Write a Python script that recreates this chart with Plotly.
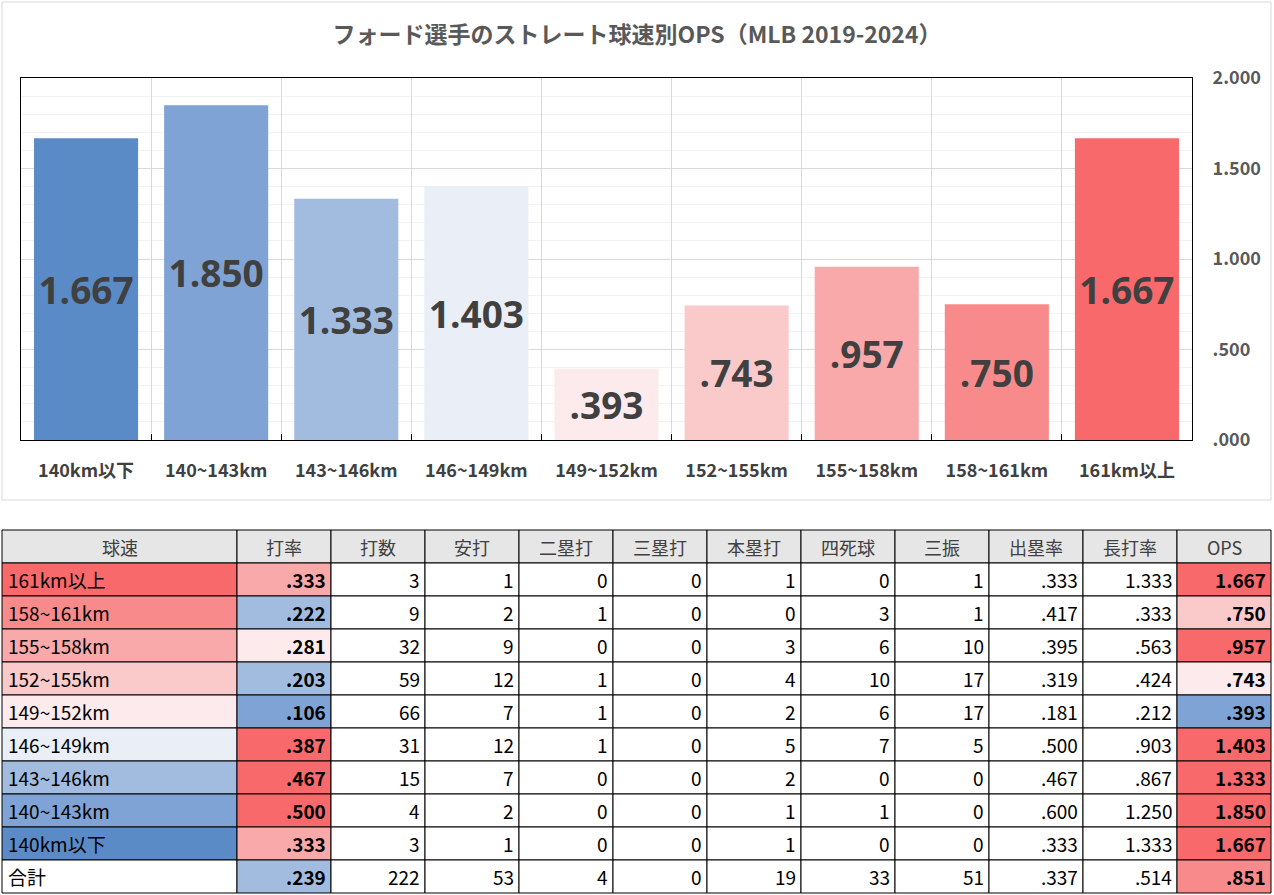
import plotly.graph_objects as go

# ---------------- data ----------------
categories = ["140km以下", "140~143km", "143~146km", "146~149km", "149~152km",
              "152~155km", "155~158km", "158~161km", "161km以上"]
ops_values = [1.667, 1.850, 1.333, 1.403, 0.393, 0.743, 0.957, 0.750, 1.667]
bar_colors = ["#5B8BC7", "#7FA3D4", "#A2BCE0", "#E9EEF7", "#FCEAED",
              "#FACACB", "#F9A9AA", "#F98A8B", "#F8696B"]

y_tickvals = [0, 0.5, 1.0, 1.5, 2.0]
y_ticktext = [".000", ".500", "1.000", "1.500", "2.000"]

title_text = "フォード選手のストレート球速別OPS（MLB 2019-2024）"

header = ["球速", "打率", "打数", "安打", "二塁打", "三塁打", "本塁打", "四死球", "三振", "出塁率", "長打率", "OPS"]
speeds = ["161km以上", "158~161km", "155~158km", "152~155km", "149~152km",
          "146~149km", "143~146km", "140~143km", "140km以下", "合計"]
avg = [0.333, 0.222, 0.281, 0.203, 0.106, 0.387, 0.467, 0.500, 0.333, 0.239]
ab = [3, 9, 32, 59, 66, 31, 15, 4, 3, 222]
hits = [1, 2, 9, 12, 7, 12, 7, 2, 1, 53]
doubles = [0, 1, 0, 1, 1, 1, 0, 0, 0, 4]
triples = [0, 0, 0, 0, 0, 0, 0, 0, 0, 0]
homers = [1, 0, 3, 4, 2, 5, 2, 1, 1, 19]
walks = [0, 3, 6, 10, 6, 7, 0, 1, 0, 33]
strikeouts = [1, 1, 10, 17, 17, 5, 0, 0, 0, 51]
obp = [0.333, 0.417, 0.395, 0.319, 0.181, 0.500, 0.467, 0.600, 0.333, 0.337]
slg = [1.333, 0.333, 0.563, 0.424, 0.212, 0.903, 0.867, 1.250, 1.333, 0.514]
ops_table = [1.667, 0.750, 0.957, 0.743, 0.393, 1.403, 1.333, 1.850, 1.667, 0.851]

speed_fill = ["#F8696B", "#F98A8B", "#F9A9AA", "#FACACB", "#FCEAED",
              "#E9EEF7", "#A2BCE0", "#7FA3D4", "#5B8BC7", "#FFFFFF"]
avg_fill = ["#F9A9AA", "#A2BCE0", "#FCEAED", "#A2BCE0", "#7FA3D4",
            "#F8696B", "#F8696B", "#F8696B", "#F9A9AA", "#A2BCE0"]
ops_fill = ["#F8696B", "#FACACB", "#F8696B", "#FCEAED", "#7FA3D4",
            "#F8696B", "#F8696B", "#F8696B", "#F8696B", "#F98A8B"]


def fmt3(v):
    s = f"{v:.3f}"
    return s[1:] if s.startswith("0") else s


W, H = 1274, 895
CJK = "Noto Sans CJK JP"


def px(x):
    return x / W


def py(y):
    return 1 - y / H


fig = go.Figure()

fig.add_trace(go.Bar(
    x=categories, y=ops_values,
    marker=dict(color=bar_colors, line=dict(width=0)),
    text=[fmt3(v) for v in ops_values],
    textposition="inside", insidetextanchor="middle",
    constraintext="none",
    textfont=dict(family="Open Sans", size=37, color="#404040", weight="bold"),
    showlegend=False, hoverinfo="skip",
))

# ---------------- table (drawn as shapes + annotations) ----------------
col_edges = [2, 237] + [237 + 94 * i for i in range(1, 12)]
col_edges[-1] = 1271
row_top = 530
row_h = 33

white = "#FFFFFF"
col_values = [speeds,
              [fmt3(v) for v in avg],
              ab, hits, doubles, triples, homers, walks, strikeouts,
              [fmt3(v) for v in obp], [fmt3(v) for v in slg],
              [fmt3(v) for v in ops_table]]
col_fills = [speed_fill, avg_fill] + [[white] * len(speeds)] * 9 + [ops_fill]
bold_cols = {1, 11}

shapes = [dict(type="rect", xref="paper", yref="paper",
               x0=px(2), x1=px(1271), y0=py(500), y1=py(2),
               line=dict(color="#D9D9D9", width=1), layer="below")]
annotations = []

for c, name in enumerate(header):
    x0, x1 = col_edges[c], col_edges[c + 1]
    shapes.append(dict(type="rect", xref="paper", yref="paper",
                       x0=px(x0), x1=px(x1), y0=py(row_top + row_h), y1=py(row_top),
                       fillcolor="#E7E6E6", line=dict(color="black", width=1), layer="above"))
    annotations.append(dict(text=name, xref="paper", yref="paper",
                            x=px((x0 + x1) / 2), y=py(row_top + row_h / 2),
                            xanchor="center", yanchor="middle", showarrow=False,
                            font=dict(family=CJK, size=18, color="#404040")))

for c in range(len(header)):
    x0, x1 = col_edges[c], col_edges[c + 1]
    for r in range(len(speeds)):
        y0 = row_top + row_h * (r + 1)
        shapes.append(dict(type="rect", xref="paper", yref="paper",
                           x0=px(x0), x1=px(x1), y0=py(y0 + row_h), y1=py(y0),
                           fillcolor=col_fills[c][r], line=dict(color="black", width=1),
                           layer="above"))
        val = str(col_values[c][r])
        if c == 0:
            ax, anc = px(x0 + 4), "left"
        else:
            ax, anc = px(x1 - 3), "right"
        annotations.append(dict(text=val, xref="paper", yref="paper",
                                x=ax, y=py(y0 + row_h / 2),
                                xanchor=anc, yanchor="middle", showarrow=False,
                                font=dict(family=CJK, size=19, color="black",
                                          weight="bold" if c in bold_cols else "normal")))

fig.update_layout(
    width=W, height=H, autosize=False,
    margin=dict(l=0, r=0, t=0, b=0, autoexpand=False),
    paper_bgcolor="white", plot_bgcolor="white",
    bargap=0.2,
    title=dict(text=title_text, x=0.5, xanchor="center", y=py(35), yanchor="middle",
               automargin=False,
               font=dict(family=CJK, size=23, color="#595959", weight="bold")),
    xaxis=dict(domain=[px(21), px(1192)], anchor="y", automargin=False,
               showline=True, mirror=True, linecolor="black", linewidth=1,
               showgrid=True, gridcolor="#D9D9D9", tickson="boundaries",
               ticks="inside", ticklen=6, tickcolor="black",
               ticklabelstandoff=14,
               tickfont=dict(family=CJK, size=18, color="#404040", weight="bold"),
               fixedrange=True),
    yaxis=dict(domain=[py(440), py(78)], anchor="x", side="right", automargin=False,
               range=[0, 2.0], tickmode="array", tickvals=y_tickvals, ticktext=y_ticktext,
               showline=True, mirror=True, linecolor="black", linewidth=1,
               showgrid=True, gridcolor="#D9D9D9", zeroline=False,
               ticks="", ticklabelstandoff=16,
               minor=dict(tickmode="linear", tick0=0, dtick=0.1, showgrid=True,
                          gridcolor="#F2F2F2", ticks=""),
               tickfont=dict(family=CJK, size=18, color="#595959", weight="bold"),
               fixedrange=True),
    shapes=shapes,
    annotations=annotations,
)

fig.write_html("out.html", config={"displayModeBar": False},
               post_script="document.body.style.margin='0';document.body.style.overflow='hidden';")
